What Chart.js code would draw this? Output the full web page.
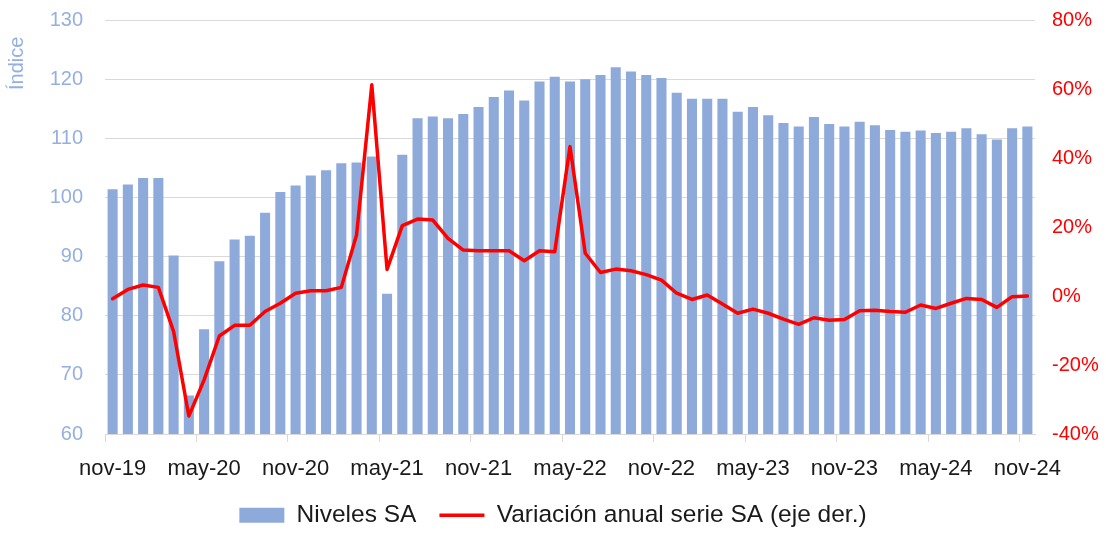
<!DOCTYPE html>
<html>
<head>
<meta charset="utf-8">
<script src="https://cdn.jsdelivr.net/npm/chart.js@4.4.1/dist/chart.umd.min.js"></script>
<style>
  body { margin: 0; background: #fff; }
  #wrap { width: 1106px; height: 536px; }
</style>
</head>
<body>
<div id="wrap"><canvas id="chart" width="1106" height="536"></canvas></div>
<script>
// ====== DATOS ======
const meses = [
    "nov-19", "dic-19",
    "ene-20", "feb-20", "mar-20", "abr-20", "may-20", "jun-20", "jul-20", "ago-20", "sep-20", "oct-20", "nov-20", "dic-20",
    "ene-21", "feb-21", "mar-21", "abr-21", "may-21", "jun-21", "jul-21", "ago-21", "sep-21", "oct-21", "nov-21", "dic-21",
    "ene-22", "feb-22", "mar-22", "abr-22", "may-22", "jun-22", "jul-22", "ago-22", "sep-22", "oct-22", "nov-22", "dic-22",
    "ene-23", "feb-23", "mar-23", "abr-23", "may-23", "jun-23", "jul-23", "ago-23", "sep-23", "oct-23", "nov-23", "dic-23",
    "ene-24", "feb-24", "mar-24", "abr-24", "may-24", "jun-24", "jul-24", "ago-24", "sep-24", "oct-24", "nov-24"
];

// etiquetas visibles del eje X (cada 6 meses)
const etiquetasX = ["nov-19", "may-20", "nov-20", "may-21", "nov-21", "may-22", "nov-22", "may-23", "nov-23", "may-24", "nov-24"];

// Niveles SA (eje izq.)
const niveles = [
    101.4, 102.2,
    103.3, 103.3, 90.2, 66.5, 77.7, 89.2, 92.9, 93.5, 97.4, 100.9, 102.0, 103.7,
    104.6, 105.8, 105.9, 106.9, 83.7, 107.2, 113.4, 113.7, 113.4, 114.1, 115.3, 117.0,
    118.1, 116.4, 119.6, 120.4, 119.6, 120.0, 120.7, 122.0, 121.3, 120.7, 120.2, 117.7,
    116.7, 116.7, 116.7, 114.5, 115.3, 113.9, 112.6, 112.0, 113.6, 112.4, 112.0, 112.8,
    112.2, 111.4, 111.1, 111.3, 110.9, 111.1, 111.7, 110.7, 109.8, 111.7, 112.0
];

// Variación anual serie SA, % (eje der.)
const variacion = [
    -0.8, 1.9,
    3.2, 2.5, -10.3, -34.8, -24.3, -11.6, -8.5, -8.5, -4.5, -2.1, 0.8, 1.5,
    1.5, 2.5, 17.7, 61.2, 7.7, 20.4, 22.3, 22.0, 16.7, 13.3, 13.1, 13.1,
    13.1, 10.2, 13.1, 12.8, 43.3, 12.4, 6.8, 7.8, 7.3, 6.2, 4.6, 0.8,
    -1.0, 0.3, -2.3, -5.0, -3.8, -5.0, -6.7, -8.2, -6.3, -7.0, -6.8, -4.3,
    -4.1, -4.5, -4.7, -2.6, -3.6, -2.1, -0.7, -1.0, -3.3, -0.2, 0.0
];

// ====== ESTILOS ======
const AZUL = "#8eaadb";
const AZUL_TEXTO = "#95b0e0";
const ROJO = "#ff0000";
const GRIS = "#d9d9d9";
const NEGRO = "#1a1a1a";
const TRANSPARENTE = "rgba(0,0,0,0)";

Chart.defaults.font.family = "'Liberation Sans', Arial, sans-serif";

// alto fijo de la leyenda
const ajusteLeyenda = {
    id: "ajusteLeyenda",
    beforeInit(chart) {
        const fitOriginal = chart.legend.fit;
        chart.legend.fit = function () {
            fitOriginal.call(this);
            this.height = 56;
        };
    }
};

// ====== GRÁFICO ======
new Chart(document.getElementById("chart"), {
    type: "bar",
    data: {
        labels: meses,
        datasets: [
            {
                label: "Niveles SA",
                data: niveles,
                yAxisID: "y",
                backgroundColor: AZUL,
                borderWidth: 0,
                barPercentage: 0.66,
                categoryPercentage: 1,
                order: 2
            },
            {
                type: "line",
                label: "Variación anual serie SA (eje der.)",
                data: variacion,
                yAxisID: "y1",
                borderColor: ROJO,
                backgroundColor: ROJO,
                borderWidth: 3.5,
                borderJoinStyle: "round",
                borderCapStyle: "round",
                pointRadius: 0,
                tension: 0,
                order: 1
            }
        ]
    },
    options: {
        responsive: false,
        animation: false,
        layout: { padding: { top: 20, left: 0, right: 0, bottom: 0 } },
        plugins: {
            tooltip: { enabled: false },
            legend: {
                position: "bottom",
                labels: {
                    usePointStyle: true,
                    pointStyleWidth: 45,
                    boxHeight: 15,
                    padding: 23,
                    color: NEGRO,
                    font: { size: 24.5 },
                    sort: (a, b) => a.datasetIndex - b.datasetIndex,
                    generateLabels: (chart) => {
                        const items = Chart.defaults.plugins.legend.labels.generateLabels(chart);
                        items.forEach(item => {
                            const ds = chart.data.datasets[item.datasetIndex];
                            item.pointStyle = ds.type === "line" ? "line" : "rect";
                        });
                        return items;
                    }
                }
            }
        },
        scales: {
            x: {
                offset: true,
                grid: {
                    offset: true,
                    drawOnChartArea: false,
                    drawTicks: true,
                    tickLength: 8,
                    color: (ctx) => etiquetasX.includes(meses[ctx.index]) ? GRIS : TRANSPARENTE
                },
                border: { color: GRIS },
                ticks: {
                    autoSkip: false,
                    maxRotation: 0,
                    padding: 14,
                    color: NEGRO,
                    font: { size: 22 },
                    callback: (value, index) => etiquetasX.includes(meses[index]) ? meses[index] : ""
                },
                afterFit: (scale) => { scale.height = 46; }
            },
            y: {
                position: "left",
                min: 60,
                max: 130,
                ticks: { stepSize: 10, padding: 2, color: AZUL_TEXTO, font: { size: 20 } },
                grid: { color: GRIS, drawTicks: true, tickLength: 20, tickColor: TRANSPARENTE },
                border: { display: false },
                title: {
                    display: true,
                    text: "Índice   ",
                    align: "end",
                    color: AZUL_TEXTO,
                    font: { size: 20 },
                    padding: { top: 5, bottom: 0 }
                },
                afterFit: (scale) => { scale.width = 105; }
            },
            y1: {
                position: "right",
                min: -40,
                max: 80,
                ticks: {
                    stepSize: 20,
                    padding: 2,
                    color: ROJO,
                    font: { size: 20 },
                    callback: (v) => v + "%"
                },
                grid: { drawOnChartArea: false, drawTicks: true, tickLength: 15, tickColor: TRANSPARENTE },
                border: { display: false },
                afterFit: (scale) => { scale.width = 71; }
            }
        }
    },
    plugins: [ajusteLeyenda]
});
</script>
</body>
</html>
